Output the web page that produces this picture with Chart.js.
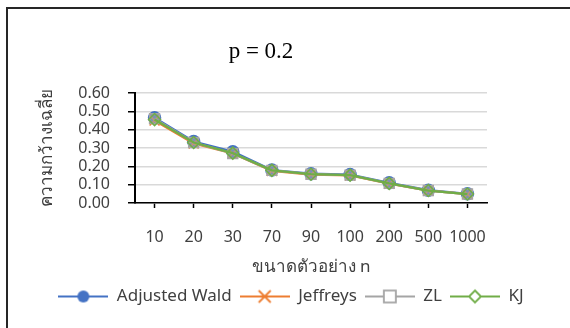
<!DOCTYPE html>
<html>
<head>
<meta charset="utf-8">
<script src="https://cdn.jsdelivr.net/npm/chart.js@4.4.1/dist/chart.umd.min.js"></script>
<style>
  html, body { margin: 0; padding: 0; background: #fff; overflow: hidden; }
  #wrap { position: relative; width: 570px; height: 328px; }
  #frame { position: absolute; left: 6px; top: 7px; width: 700px; height: 400px;
           border-left: 2px solid #262626; border-top: 2px solid #262626; }
  canvas { position: absolute; left: 0; top: 0; }
</style>
</head>
<body>
<div id="wrap">
  <div id="frame"></div>
  <canvas id="chart" width="570" height="328"></canvas>
</div>
<script>
const chartTitle = 'p = 0.2';
const xTitle = 'ขนาดตัวอย่าง n';
const yTitle = 'ความกว้างเฉลี่ย';
const sampleSizes = ['10', '20', '30', '70', '90', '100', '200', '500', '1000'];
const adjustedWald = [0.465, 0.335, 0.28, 0.18, 0.16, 0.155, 0.11, 0.07, 0.05];
const jeffreys     = [0.45, 0.325, 0.27, 0.175, 0.155, 0.15, 0.105, 0.067, 0.048];
const zl           = [0.46, 0.33, 0.27, 0.178, 0.157, 0.152, 0.107, 0.068, 0.049];
const kj           = [0.455, 0.33, 0.272, 0.178, 0.157, 0.152, 0.107, 0.068, 0.049];

const BLUE = '#4472C4', ORANGE = '#ED7D31', GRAY = '#A5A5A5', GREEN = '#70AD47';
const TEXT = '#404040';
const FONT = '"Noto Sans", sans-serif';

// legend icon: line with marker in the middle
function legendIcon(color, drawMarker) {
    const c = document.createElement('canvas');
    c.width = 50; c.height = 18;
    const g = c.getContext('2d');
    g.strokeStyle = color;
    g.lineWidth = 2;
    g.beginPath(); g.moveTo(0, 9); g.lineTo(50, 9); g.stroke();
    drawMarker(g, color);
    return c;
}
const icons = [
    legendIcon(BLUE, (g, col) => { g.fillStyle = col; g.beginPath(); g.arc(25, 9, 6, 0, Math.PI * 2); g.fill(); }),
    legendIcon(ORANGE, (g, col) => { g.lineWidth = 1.8; g.beginPath();
        g.moveTo(19, 3); g.lineTo(31, 15); g.moveTo(31, 3); g.lineTo(19, 15); g.stroke(); }),
    legendIcon(GRAY, (g, col) => { g.fillStyle = '#fff'; g.fillRect(19, 3, 12, 12);
        g.lineWidth = 1.8; g.strokeRect(19, 3, 12, 12); }),
    legendIcon(GREEN, (g, col) => { g.fillStyle = '#fff'; g.lineWidth = 1.8; g.beginPath();
        g.moveTo(25, 3); g.lineTo(31, 9); g.lineTo(25, 15); g.lineTo(19, 9); g.closePath(); g.fill(); g.stroke(); })
];

const titlePlugin = {
    id: 'manualTitle',
    afterDraw(chart) {
        const ctx = chart.ctx;
        ctx.save();
        ctx.font = '23px "Liberation Serif"';
        ctx.fillStyle = '#000';
        ctx.textAlign = 'center';
        ctx.textBaseline = 'middle';
        ctx.fillText(chartTitle, 261, 52);
        ctx.restore();
    }
};

// order: lower value is drawn on top (last series on top, like the original)
function series(label, data, color, style, radius, bg, order) {
    return {
        label, data, order,
        borderColor: color,
        borderWidth: 2.25,
        backgroundColor: bg,
        pointStyle: style,
        pointRadius: radius,
        pointBorderColor: color,
        pointBackgroundColor: bg,
        pointBorderWidth: 1.5,
        tension: 0
    };
}

new Chart(document.getElementById('chart'), {
    type: 'line',
    data: {
        labels: sampleSizes,
        datasets: [
            series('Adjusted Wald', adjustedWald, BLUE, 'circle', 6, BLUE, 3),
            series('Jeffreys', jeffreys, ORANGE, 'crossRot', 7, ORANGE, 2),
            series('ZL', zl, GRAY, 'rect', 7, 'rgba(165,165,165,0.6)', 1),
            series('KJ', kj, GREEN, 'rectRot', 6, 'rgba(255,255,255,0)', 0)
        ]
    },
    options: {
        responsive: false,
        animation: false,
        layout: { padding: { top: 93, left: 12, right: 0, bottom: 13 } },
        plugins: {
            title: { display: false },
            tooltip: { enabled: false },
            legend: {
                position: 'bottom',
                labels: {
                    usePointStyle: true,
                    pointStyleWidth: 50,
                    padding: 8,
                    color: TEXT,
                    font: { family: FONT, size: 17 },
                    generateLabels(chart) {
                        return chart.data.datasets.map((ds, i) => ({
                            text: ds.label,
                            pointStyle: icons[i],
                            fillStyle: ds.borderColor,
                            strokeStyle: ds.borderColor,
                            lineWidth: 0,
                            hidden: false,
                            fontColor: TEXT,
                            datasetIndex: i
                        }));
                    }
                }
            }
        },
        scales: {
            x: {
                offset: true,
                grid: { display: true, drawOnChartArea: false, drawTicks: true, offset: false,
                        tickLength: 5, tickColor: '#000', tickWidth: 1.5 },
                border: { display: true, color: '#000', width: 1.5 },
                ticks: { color: TEXT, font: { family: FONT, size: 16 }, padding: 20,
                         maxRotation: 0, autoSkip: false },
                title: { display: true, text: xTitle, color: TEXT, font: { family: FONT, size: 17 },
                         padding: { top: 0, bottom: 3 } },
                afterFit(scale) { scale.height = 77; }
            },
            y: {
                min: 0, max: 0.6,
                ticks: { stepSize: 0.1, autoSkip: false, color: TEXT,
                         font: { family: FONT, size: 16, lineHeight: 1 }, padding: 18,
                         callback: v => v.toFixed(2) },
                grid: { color: '#D9D9D9', lineWidth: 1.5, tickLength: 7, tickColor: '#000', tickWidth: 1.5 },
                border: { display: true, color: '#000', width: 2 },
                title: { display: true, text: yTitle, color: TEXT, font: { family: FONT, size: 17 },
                         padding: { top: 25, bottom: 0 } },
                afterFit(scale) { scale.width = 123; }
            },
            y2: {
                position: 'right',
                display: true,
                grid: { display: false, drawTicks: false },
                border: { display: false },
                ticks: { display: false },
                afterFit(scale) { scale.width = 83; }
            }
        }
    },
    plugins: [titlePlugin]
});
</script>
</body>
</html>
